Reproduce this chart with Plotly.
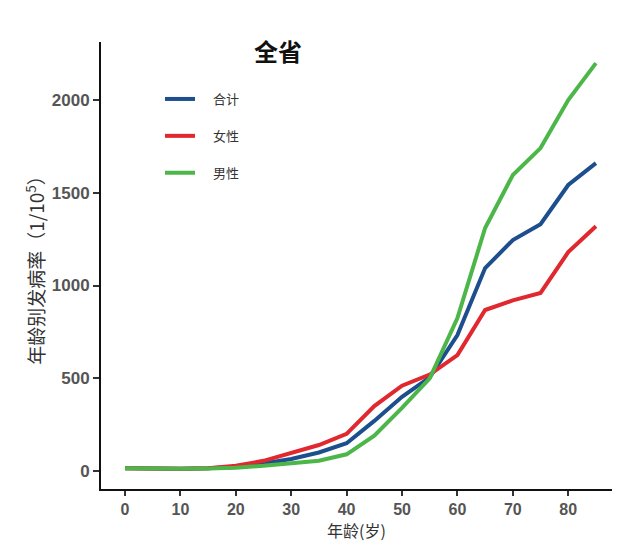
import plotly.graph_objects as go

ages = [0, 5, 10, 15, 20, 25, 30, 35, 40, 45, 50, 55, 60, 65, 70, 75, 80, 85]
total = [15, 12, 12, 15, 22, 40, 65, 100, 150, 270, 400, 505, 733, 1094, 1245, 1331, 1542, 1660]
female = [15, 12, 12, 15, 28, 55, 95, 140, 200, 350, 460, 520, 625, 868, 920, 960, 1180, 1320]
male = [15, 12, 12, 14, 18, 28, 40, 55, 90, 190, 340, 500, 825, 1310, 1596, 1741, 2000, 2199]

series_names = ["合计", "女性", "男性"]
series_vals = [total, female, male]
colors = ["#1d4f8e", "#e0282e", "#4cb748"]

x_ticks = [0, 10, 20, 30, 40, 50, 60, 70, 80]
y_ticks = [0, 500, 1000, 1500, 2000]

W, H = 637, 542
L, R, T, B = 101, 25, 42, 53
pw, ph = W - L - R, H - T - B

fig = go.Figure()
for i, (name, vals, c) in enumerate(zip(series_names, series_vals, colors)):
    fig.add_trace(go.Scatter(x=ages, y=vals, mode="lines", name="\u2003" + name,
                             legendgroup=str(i),
                             line=dict(color=c, width=4)))

cjk = "Noto Sans CJK SC"
fig.update_layout(
    width=W, height=H,
    paper_bgcolor="white", plot_bgcolor="white",
    margin=dict(l=L, r=R, t=T, b=B, autoexpand=False),
    showlegend=True,
    legend=dict(x=(160 - L) / pw, y=(H - B - 84) / ph, xanchor="left", yanchor="top",
                font=dict(family=cjk, size=13, color="#333"),
                traceorder="grouped", tracegroupgap=17,
                bgcolor="rgba(0,0,0,0)"),
    annotations=[dict(text="<b>全省</b>", x=(278 - L) / pw, xref="paper",
                      y=(H - B - 50) / ph, yref="paper", xanchor="center", yanchor="middle",
                      showarrow=False,
                      font=dict(family=cjk, size=24, color="#111"))],
    xaxis=dict(range=[-4.33, 87.9], tickvals=x_ticks, automargin=False,
               showgrid=False, zeroline=False,
               showline=True, linecolor="#111", linewidth=2,
               ticks="outside", ticklen=5, tickwidth=2, tickcolor="#333",
               tickfont=dict(family="Liberation Sans", size=16, color="#555", weight="bold"),
               title=dict(text="年龄(岁)", font=dict(family=cjk, size=16, color="#333"), standoff=2)),
    yaxis=dict(range=[-97, 2313], tickvals=y_ticks, automargin=False,
               showgrid=False, zeroline=False,
               showline=True, linecolor="#111", linewidth=2,
               ticks="outside", ticklen=6, tickwidth=2, tickcolor="#333",
               tickfont=dict(family="Liberation Sans", size=17, color="#555", weight="bold"),
               title=dict(text="年龄别发病率（1/10<sup>5</sup>）", font=dict(family=cjk, size=19, color="#333"), standoff=2)),
)
fig.write_html("out.html", config={"displayModeBar": False},
               post_script="document.body.style.margin='0';document.body.style.overflow='hidden';")
